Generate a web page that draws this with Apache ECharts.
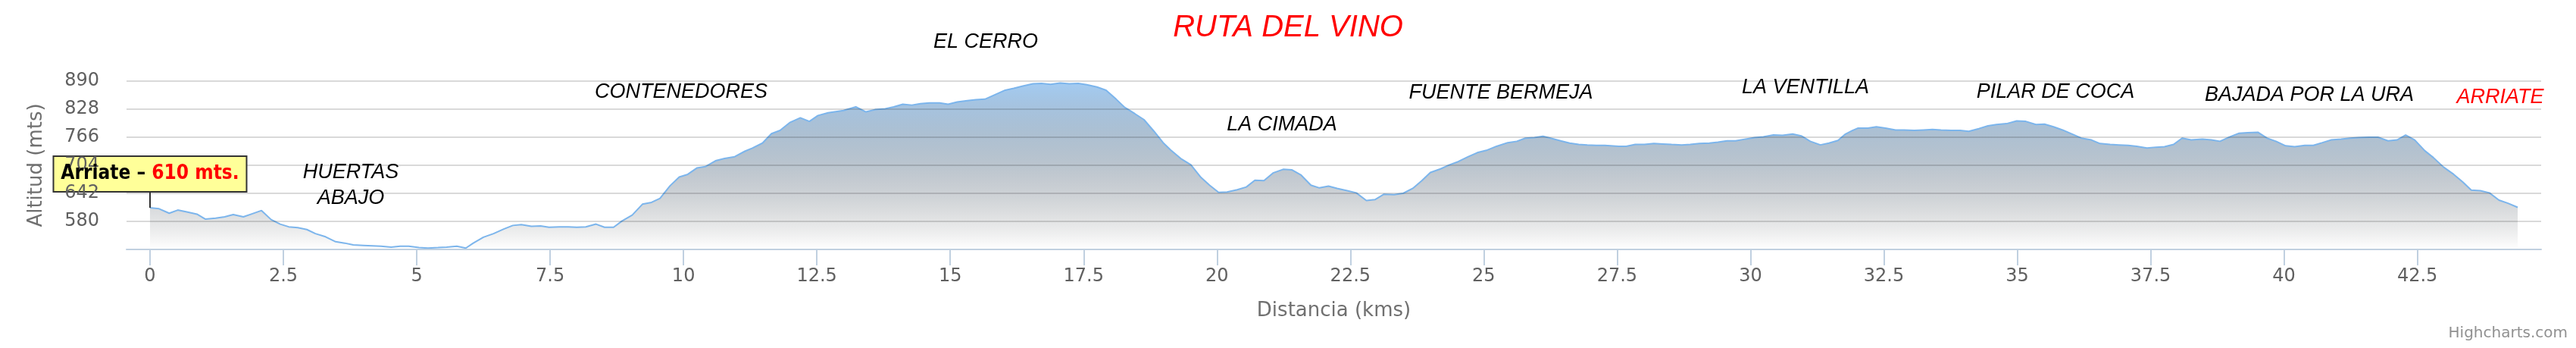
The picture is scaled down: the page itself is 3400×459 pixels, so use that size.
<!DOCTYPE html>
<html><head><meta charset="utf-8">
<script src="https://cdn.jsdelivr.net/npm/echarts@6/dist/echarts.min.js"></script>
<style>html,body{margin:0;padding:0;background:#fff}#c{width:3400px;height:459px}</style>
</head><body><div id="c"></div>
<script>
// ---- data ----
const chartTitle = 'RUTA DEL VINO';
const xAxisTitle = 'Distancia (kms)';
const yAxisTitle = 'Altitud (mts)';
const creditText = 'Highcharts.com';
const startName = 'Arriate';
const startUnit = 'mts.';

const distanceKm = [
  0,0.17,0.36,0.52,0.69,0.88,1.04,1.23,1.40,1.56,
  1.75,1.92,2.09,2.27,2.44,2.60,2.77,2.94,3.10,3.29,
  3.48,3.65,3.81,4.00,4.17,4.33,4.52,4.69,4.85,5.04,
  5.21,5.40,5.56,5.75,5.92,6.06,6.25,6.44,6.63,6.80,
  6.96,7.15,7.32,7.48,7.67,7.84,8.00,8.17,8.36,8.52,
  8.69,8.85,9.04,9.23,9.40,9.56,9.75,9.92,10.08,10.25,
  10.41,10.60,10.77,10.96,11.15,11.29,11.48,11.65,11.81,12.00,
  12.19,12.36,12.52,12.71,13.00,13.23,13.42,13.59,13.78,13.94,
  14.11,14.28,14.44,14.61,14.80,14.96,15.13,15.32,15.48,15.65,
  15.84,16.03,16.19,16.36,16.55,16.71,16.88,17.06,17.23,17.40,
  17.56,17.75,17.92,18.11,18.27,18.46,18.63,18.82,18.99,19.13,
  19.32,19.51,19.70,19.86,20.03,20.19,20.38,20.55,20.71,20.88,
  21.05,21.24,21.40,21.57,21.76,21.92,22.09,22.25,22.44,22.61,
  22.80,22.96,23.13,23.32,23.49,23.67,23.84,24.00,24.19,24.36,
  24.52,24.71,24.88,25.05,25.24,25.45,25.62,25.78,25.95,26.11,
  26.28,26.44,26.61,26.78,26.94,27.11,27.27,27.53,27.67,27.84,
  28.01,28.19,28.36,28.52,28.71,28.87,29.04,29.23,29.39,29.56,
  29.72,29.91,30.08,30.24,30.43,30.60,30.79,30.95,31.12,31.31,
  31.47,31.64,31.78,31.91,32.01,32.20,32.36,32.53,32.72,32.88,
  33.07,33.24,33.41,33.57,33.76,33.93,34.09,34.28,34.45,34.61,
  34.80,34.99,35.16,35.35,35.51,35.68,35.85,36.03,36.20,36.39,
  36.55,36.74,36.91,37.08,37.24,37.43,37.60,37.76,37.93,38.09,
  38.26,38.47,38.64,38.80,38.99,39.16,39.32,39.51,39.68,39.85,
  40.03,40.20,40.39,40.55,40.72,40.88,41.07,41.24,41.40,41.59,
  41.76,41.95,42.12,42.28,42.45,42.64,42.80,42.99,43.18,43.35,
  43.51,43.68,43.85,44.03,44.20,44.38
];
const altitudeM = [
  610,608,598,605,601,596,585,587,590,595,
  590,597,604,584,574,568,566,562,553,546,
  535,532,528,527,526,525,523,525,525,522,
  521,522,523,525,521,532,545,553,563,571,
  573,569,570,567,568,568,567,568,574,567,
  567,581,594,618,622,631,659,678,684,698,
  701,714,719,723,735,742,753,774,781,799,
  809,801,814,820,825,833,822,827,829,833,
  839,837,840,842,842,839,844,847,849,850,
  860,870,874,879,884,885,883,886,884,885,
  882,877,870,850,832,818,805,779,754,738,
  719,705,677,660,644,645,650,656,671,670,
  687,695,694,683,660,654,658,653,648,643,
  626,628,640,639,642,653,670,688,696,705,
  712,723,732,737,746,754,757,764,765,768,
  763,758,753,750,749,748,748,746,746,750,
  750,752,751,750,749,750,752,753,755,758,
  758,762,765,767,771,770,773,769,757,749,
  753,759,773,781,786,786,789,786,782,782,
  781,782,783,782,781,781,779,785,791,794,
  796,802,801,794,795,789,782,773,764,760,
  752,750,749,748,746,742,744,745,750,764,
  760,762,760,757,767,775,776,777,764,757,
  747,745,748,748,754,760,762,764,765,766,
  766,758,760,771,760,736,721,700,684,667,
  649,648,643,627,620,611
];
const xTickValues = [0,2.5,5,7.5,10,12.5,15,17.5,20,22.5,25,27.5,30,32.5,35,37.5,40,42.5];
const yMin = 518, yMax = 890, yStep = 62;
const xMin = -0.44, xMax = 44.82;

const placeNames = ['EL CERRO','CONTENEDORES','HUERTAS\nABAJO','LA CIMADA','FUENTE BERMEJA','LA VENTILLA','PILAR DE COCA','BAJADA POR LA URA','ARRIATE'];

// ---- layout (pixel positions of the place labels) ----
const placeLayout = [
  {x:1301,y:55},{x:899,y:121},{x:463,y:244},{x:1692,y:164},{x:1981,y:122},
  {x:2383,y:115},{x:2713,y:121},{x:3048,y:125},{x:3300,y:128,red:true}
];

const seriesData = distanceKm.map((d,i)=>[d, altitudeM[i]]);

// gradient: from #7cb5ec to transparent black (non-premultiplied like SVG)
const stops = [];
for (let i=0;i<=10;i++){
  const t=i/10, k=1-t;
  stops.push({offset:t, color:`rgba(${Math.round(124*k)},${Math.round(181*k)},${Math.round(236*k)},${k.toFixed(2)})`});
}

const chart = echarts.init(document.getElementById('c'), null, {renderer:'canvas'});
const sans = 'DejaVu Sans';
const yBase = {type:'value', min:yMin, max:yMax, interval:yStep, position:'left', axisLine:{show:false}, axisTick:{show:false}};
const option = {
  animation:false,
  backgroundColor:'#ffffff',
  title:{text:chartTitle, left:'center', top:12,
    textStyle:{color:'#ff0000', fontStyle:'italic', fontWeight:'normal', fontSize:40, fontFamily:'Liberation Sans'}},
  grid:{left:167, right:46, top:107, bottom:130, containLabel:false},
  xAxis:{
    type:'value', min:xMin, max:xMax,
    name:xAxisTitle, nameLocation:'middle', nameGap:68,
    nameTextStyle:{color:'#707070', fontSize:26, fontFamily:sans},
    axisLine:{show:true, onZero:false, lineStyle:{color:'#c0d0e0', width:2}},
    axisTick:{show:true, customValues:xTickValues, length:21, lineStyle:{color:'#c0d0e0', width:2}},
    axisLabel:{customValues:xTickValues, color:'#606060', fontSize:24, fontFamily:sans, margin:24, formatter:v=>String(v)},
    splitLine:{show:false}, z:4
  },
  yAxis:[
    Object.assign({}, yBase, {
      z:3,
      axisLabel:{show:false},
      splitLine:{show:true, lineStyle:{color:'rgba(0,0,0,0.15)', width:2}}
    }),
    Object.assign({}, yBase, {
      z:10,
      name:yAxisTitle, nameLocation:'middle', nameGap:106, nameRotate:90,
      nameTextStyle:{color:'#707070', fontSize:26, fontFamily:sans},
      axisLabel:{showMinLabel:false, color:'#606060', fontSize:24, fontFamily:sans, margin:36},
      splitLine:{show:false}
    })
  ],
  series:[{
    type:'line', data:seriesData, showSymbol:false, smooth:false, yAxisIndex:0,
    lineStyle:{color:'#7cb5ec', width:2},
    itemStyle:{color:'#7cb5ec'},
    areaStyle:{origin:'start', color:new echarts.graphic.LinearGradient(0,0,0,1,stops)},
    z:2
  }]
};
chart.setOption(option);

const p = chart.convertToPixel({xAxisIndex:0, yAxisIndex:0}, [distanceKm[0], altitudeM[0]]);
const boxW = 255, boxH = 47, boxBottom = p[1]-21;
const graphics = placeNames.map((txt,i)=>({
  type:'text', z:20,
  style:{text:txt, x:placeLayout[i].x, y:placeLayout[i].y, align:'center', verticalAlign:'middle',
    fill: placeLayout[i].red ? '#ff0000' : '#000000',
    font:'italic 27px "Liberation Sans"', lineHeight:34}
}));
graphics.push({type:'line', z:5, shape:{x1:p[0], y1:boxBottom, x2:p[0], y2:p[1]}, style:{stroke:'#333', lineWidth:2}});
graphics.push({type:'rect', z:5, shape:{x:p[0]-boxW/2, y:boxBottom-boxH, width:boxW, height:boxH},
  style:{fill:'#ffff99', stroke:'#333333', lineWidth:2}});
graphics.push({type:'text', z:20,
  style:{text:'{a|'+startName+' – }{b|'+altitudeM[0]+' '+startUnit+'}', x:p[0], y:boxBottom-boxH/2, align:'center', verticalAlign:'middle',
    font:'bold 26px "DejaVu Sans Condensed", "DejaVu Sans"',
    rich:{a:{fill:'#000000', color:'#000000', fontWeight:'bold', fontSize:26, fontFamily:'"DejaVu Sans Condensed", "DejaVu Sans"'},
          b:{fill:'#ff0000', color:'#ff0000', fontWeight:'bold', fontSize:26, fontFamily:'"DejaVu Sans Condensed", "DejaVu Sans"'}}}});
graphics.push({type:'text', z:20, style:{text:creditText, x:3389, y:440, align:'right', verticalAlign:'middle',
  fill:'#909090', font:'20px "DejaVu Sans"'}});
chart.setOption({graphic:graphics});
</script>
</body></html>
